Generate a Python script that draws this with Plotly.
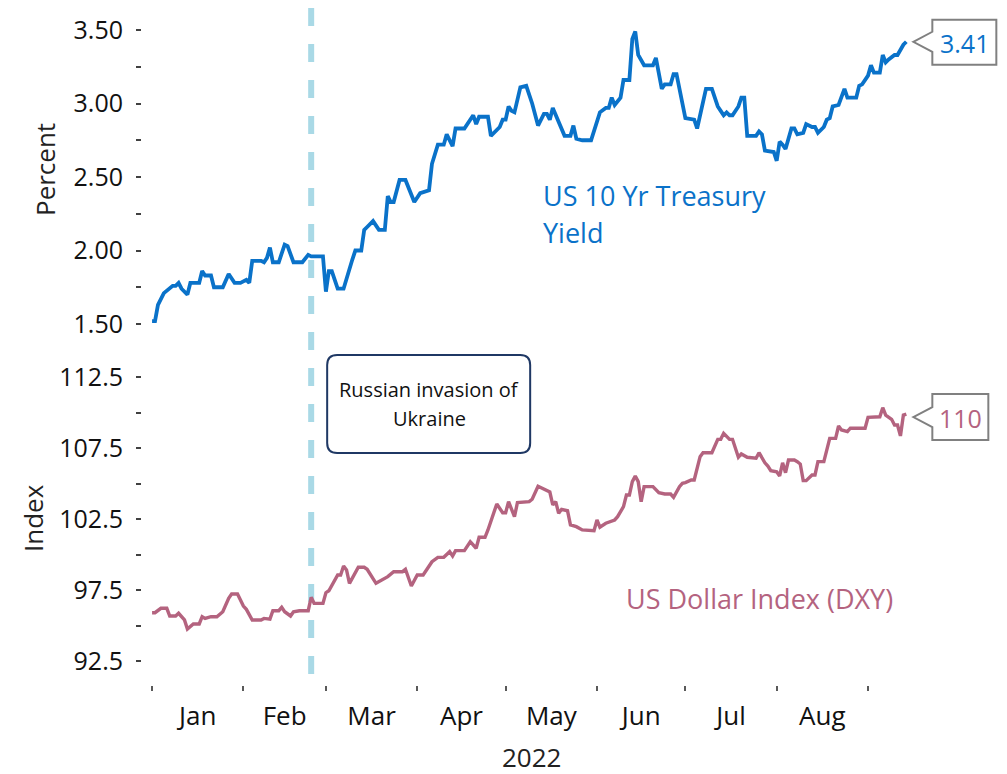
import pandas as pd
import plotly.graph_objects as go

# ---------------- data ----------------
yield_dates = [
    "2022-01-01", "2022-01-02", "2022-01-03", "2022-01-05", "2022-01-08", "2022-01-09", "2022-01-10",
    "2022-01-11", "2022-01-13", "2022-01-14", "2022-01-17", "2022-01-18", "2022-01-19", "2022-01-21",
    "2022-01-22", "2022-01-25", "2022-01-27", "2022-01-29", "2022-01-31", "2022-02-02", "2022-02-03",
    "2022-02-04", "2022-02-07", "2022-02-08", "2022-02-09", "2022-02-10", "2022-02-11", "2022-02-13",
    "2022-02-15", "2022-02-16", "2022-02-18", "2022-02-21", "2022-02-23", "2022-02-24", "2022-02-28",
    "2022-03-01", "2022-03-02", "2022-03-03", "2022-03-05", "2022-03-07", "2022-03-10", "2022-03-11",
    "2022-03-13", "2022-03-14", "2022-03-15", "2022-03-17", "2022-03-19", "2022-03-21", "2022-03-22",
    "2022-03-23", "2022-03-24", "2022-03-26", "2022-03-28", "2022-03-29", "2022-03-31", "2022-04-02",
    "2022-04-04", "2022-04-05", "2022-04-06", "2022-04-08", "2022-04-10", "2022-04-11", "2022-04-13",
    "2022-04-14", "2022-04-17", "2022-04-20", "2022-04-21", "2022-04-22", "2022-04-25", "2022-04-26",
    "2022-04-29", "2022-04-30", "2022-05-01", "2022-05-02", "2022-05-03", "2022-05-04", "2022-05-06",
    "2022-05-08", "2022-05-10", "2022-05-12", "2022-05-14", "2022-05-15", "2022-05-16", "2022-05-17",
    "2022-05-21", "2022-05-23", "2022-05-24", "2022-05-25", "2022-05-27", "2022-05-30", "2022-06-02",
    "2022-06-04", "2022-06-05", "2022-06-06", "2022-06-07", "2022-06-09", "2022-06-10", "2022-06-12",
    "2022-06-13", "2022-06-14", "2022-06-15", "2022-06-17", "2022-06-20", "2022-06-21", "2022-06-23",
    "2022-06-24", "2022-06-26", "2022-06-27", "2022-06-28", "2022-07-01", "2022-07-04", "2022-07-05",
    "2022-07-06", "2022-07-08", "2022-07-10", "2022-07-12", "2022-07-13", "2022-07-14", "2022-07-15",
    "2022-07-16", "2022-07-17", "2022-07-19", "2022-07-20", "2022-07-21", "2022-07-22", "2022-07-25",
    "2022-07-26", "2022-07-27", "2022-07-28", "2022-07-31", "2022-08-01", "2022-08-02", "2022-08-03",
    "2022-08-04", "2022-08-06", "2022-08-07", "2022-08-08", "2022-08-10", "2022-08-11", "2022-08-13",
    "2022-08-14", "2022-08-15", "2022-08-17", "2022-08-18", "2022-08-19", "2022-08-20", "2022-08-22",
    "2022-08-23", "2022-08-24", "2022-08-25", "2022-08-28", "2022-08-29", "2022-08-30", "2022-09-01",
    "2022-09-02", "2022-09-03", "2022-09-05", "2022-09-06", "2022-09-07", "2022-09-08", "2022-09-10",
    "2022-09-11", "2022-09-13", "2022-09-14",
]
yield_values = [
    1.52, 1.52, 1.63, 1.71, 1.76, 1.76, 1.78,
    1.74, 1.70, 1.78, 1.78, 1.86, 1.83, 1.83,
    1.75, 1.75, 1.84, 1.78, 1.78, 1.80, 1.78,
    1.93, 1.93, 1.92, 1.95, 2.02, 1.92, 1.92,
    2.04, 2.03, 1.92, 1.92, 1.97, 1.96, 1.96,
    1.72, 1.86, 1.86, 1.74, 1.74, 1.94, 2.00,
    2.00, 2.14, 2.16, 2.20, 2.14, 2.14, 2.37,
    2.33, 2.33, 2.48, 2.48, 2.43, 2.33, 2.39,
    2.40, 2.41, 2.59, 2.72, 2.72, 2.79, 2.71,
    2.83, 2.83, 2.92, 2.86, 2.91, 2.91, 2.78,
    2.84, 2.89, 2.89, 2.98, 2.95, 2.94, 3.11,
    3.12, 3.00, 2.85, 2.93, 2.93, 2.89, 2.97,
    2.78, 2.78, 2.85, 2.76, 2.75, 2.75, 2.94,
    2.97, 2.97, 3.04, 2.99, 3.04, 3.16, 3.16,
    3.44, 3.49, 3.33, 3.26, 3.26, 3.31, 3.10,
    3.13, 3.13, 3.20, 3.20, 2.90, 2.89, 2.83,
    2.92, 3.10, 3.10, 2.98, 2.95, 2.92, 2.94,
    2.92, 2.92, 2.98, 3.04, 3.04, 2.78, 2.78,
    2.81, 2.79, 2.68, 2.67, 2.61, 2.74, 2.72,
    2.69, 2.83, 2.83, 2.79, 2.80, 2.86, 2.84,
    2.84, 2.80, 2.84, 2.89, 2.90, 2.98, 2.99,
    3.05, 3.10, 3.04, 3.04, 3.12, 3.13, 3.19,
    3.26, 3.21, 3.21, 3.33, 3.28, 3.30, 3.33,
    3.33, 3.40, 3.42,
]

dxy_dates = [
    "2022-01-01", "2022-01-02", "2022-01-04", "2022-01-05", "2022-01-06", "2022-01-07", "2022-01-09",
    "2022-01-10", "2022-01-12", "2022-01-13", "2022-01-15", "2022-01-17", "2022-01-18", "2022-01-19",
    "2022-01-21", "2022-01-23", "2022-01-25", "2022-01-27", "2022-01-28", "2022-01-30", "2022-02-01",
    "2022-02-02", "2022-02-04", "2022-02-07", "2022-02-08", "2022-02-10", "2022-02-11", "2022-02-13",
    "2022-02-14", "2022-02-15", "2022-02-17", "2022-02-18", "2022-02-20", "2022-02-23", "2022-02-24",
    "2022-02-25", "2022-02-28", "2022-03-01", "2022-03-02", "2022-03-05", "2022-03-06", "2022-03-07",
    "2022-03-08", "2022-03-09", "2022-03-12", "2022-03-14", "2022-03-15", "2022-03-18", "2022-03-20",
    "2022-03-22", "2022-03-24", "2022-03-27", "2022-03-28", "2022-03-30", "2022-04-01", "2022-04-03",
    "2022-04-06", "2022-04-08", "2022-04-10", "2022-04-12", "2022-04-13", "2022-04-14", "2022-04-17",
    "2022-04-19", "2022-04-21", "2022-04-22", "2022-04-24", "2022-04-25", "2022-04-28", "2022-04-30",
    "2022-05-01", "2022-05-02", "2022-05-04", "2022-05-05", "2022-05-09", "2022-05-10", "2022-05-12",
    "2022-05-14", "2022-05-16", "2022-05-17", "2022-05-18", "2022-05-19", "2022-05-20", "2022-05-22",
    "2022-05-23", "2022-05-25", "2022-05-27", "2022-05-31", "2022-06-01", "2022-06-02", "2022-06-04",
    "2022-06-07", "2022-06-08", "2022-06-10", "2022-06-11", "2022-06-12", "2022-06-13", "2022-06-14",
    "2022-06-15", "2022-06-16", "2022-06-17", "2022-06-20", "2022-06-22", "2022-06-24", "2022-06-26",
    "2022-06-27", "2022-06-29", "2022-06-30", "2022-07-01", "2022-07-03", "2022-07-04", "2022-07-06",
    "2022-07-07", "2022-07-10", "2022-07-11", "2022-07-12", "2022-07-13", "2022-07-14", "2022-07-16",
    "2022-07-17", "2022-07-19", "2022-07-20", "2022-07-22", "2022-07-25", "2022-07-26", "2022-07-28",
    "2022-07-29", "2022-07-30", "2022-08-01", "2022-08-02", "2022-08-03", "2022-08-04", "2022-08-05",
    "2022-08-07", "2022-08-08", "2022-08-09", "2022-08-10", "2022-08-11", "2022-08-13", "2022-08-14",
    "2022-08-15", "2022-08-17", "2022-08-19", "2022-08-21", "2022-08-22", "2022-08-23", "2022-08-25",
    "2022-08-26", "2022-08-29", "2022-08-31", "2022-09-01", "2022-09-05", "2022-09-06", "2022-09-07",
    "2022-09-09", "2022-09-10", "2022-09-11", "2022-09-12", "2022-09-13", "2022-09-14",
]
dxy_values = [
    95.90, 95.90, 96.21, 96.20, 96.21, 95.67, 95.67,
    95.86, 95.39, 94.75, 95.11, 95.11, 95.62, 95.50,
    95.62, 95.62, 95.97, 96.92, 97.22, 97.22, 96.37,
    96.14, 95.39, 95.39, 95.50, 95.45, 96.04, 96.04,
    96.28, 95.97, 95.67, 95.97, 96.04, 96.04, 96.99,
    96.56, 96.56, 97.31, 97.45, 98.56, 98.56, 99.19,
    98.91, 97.97, 99.10, 99.10, 98.96, 97.97, 98.20,
    98.44, 98.79, 98.79, 98.96, 97.78, 98.56, 98.56,
    99.49, 99.80, 99.80, 100.20, 99.89, 100.27, 100.27,
    100.90, 100.44, 101.21, 101.21, 101.73, 103.56, 102.94,
    102.94, 103.72, 102.66, 103.65, 103.72, 103.89, 104.80,
    104.59, 104.40, 103.49, 103.72, 102.90, 103.18, 103.08,
    102.08, 101.96, 101.73, 101.68, 102.43, 101.92, 102.20,
    102.43, 102.66, 103.37, 104.19, 104.19, 105.13, 105.53,
    105.13, 103.72, 104.78, 104.78, 104.35, 104.26, 104.26,
    104.03, 104.78, 105.01, 105.06, 105.25, 105.25, 106.89,
    107.17, 107.17, 107.59, 108.11, 108.11, 108.53, 108.11,
    108.11, 106.85, 107.08, 106.85, 106.78, 107.17, 106.46,
    106.23, 105.90, 105.83, 105.53, 106.46, 105.76, 106.65,
    106.65, 106.54, 106.37, 105.20, 105.20, 105.60, 105.60,
    106.54, 106.54, 108.18, 108.18, 109.05, 108.77, 108.65,
    108.89, 108.89, 108.89, 109.66, 109.70, 110.34, 109.82,
    109.52, 109.12, 109.12, 108.35, 109.82, 109.89,
]

invasion_date = "2022-02-24"
invasion_text = ["Russian invasion of", "Ukraine"]
yield_name = ["US 10 Yr Treasury", "Yield"]
dxy_name = "US Dollar Index (DXY)"
yield_last_label = "3.41"
dxy_last_label = "110"

pct_tickvals = [1.50, 1.75, 2.00, 2.25, 2.50, 2.75, 3.00, 3.25, 3.50]
pct_ticktext = ["1.50", "", "2.00", "", "2.50", "", "3.00", "", "3.50"]
idx_tickvals = [92.5, 95.0, 97.5, 100.0, 102.5, 105.0, 107.5, 110.0, 112.5]
idx_ticktext = ["92.5", "", "97.5", "", "102.5", "", "107.5", "", "112.5"]

# ---------------- layout geometry ----------------
FONT = "Open Sans"
BLUE = "#0A72C9"
MAUVE = "#B4637F"
OFF = 8                      # page body margin of the browser
W, H = 1007 - OFF, 774 - OFF
ML, MR = 142 - OFF, 96
PW = W - ML - MR

X_RANGE = ["2021-12-28 14:00", "2022-09-15 14:00"]
Y1_RANGE = [1.48, 3.52]
Y2_RANGE = [90.81, 113.0]


def px_x(p):  # screen pixel -> paper x
    return (p - OFF - ML) / PW


def px_y(p):  # screen pixel -> paper y
    return 1 - (p - OFF) / H


Y1_DOMAIN = [px_y(326.94), px_y(27.06)]
Y2_DOMAIN = [px_y(685), px_y(369.9)]


def date_to_paper(d):
    t0, t1 = pd.Timestamp(X_RANGE[0]), pd.Timestamp(X_RANGE[1])
    return (pd.Timestamp(d) - t0) / (t1 - t0)


def val_to_paper(v, dom, rng):
    return dom[0] + (v - rng[0]) / (rng[1] - rng[0]) * (dom[1] - dom[0])


fig = go.Figure()
fig.add_trace(go.Scatter(x=yield_dates, y=yield_values, mode="lines",
                         line=dict(color=BLUE, width=3.8), xaxis="x", yaxis="y",
                         hoverinfo="skip"))
fig.add_trace(go.Scatter(x=dxy_dates, y=dxy_values, mode="lines",
                         line=dict(color=MAUVE, width=3.4), xaxis="x", yaxis="y2",
                         hoverinfo="skip"))

tickfont = dict(family=FONT, size=25, color="#111111")
common_y = dict(showgrid=False, zeroline=False, showline=False, ticks="outside", ticklen=5,
                tickwidth=1.5, tickcolor="#404040", tickfont=tickfont, tickmode="array",
                ticklabelstandoff=8, automargin=False, anchor="x")

fig.update_layout(
    width=W, height=H,
    margin=dict(l=ML, r=MR, t=0, b=0),
    paper_bgcolor="white", plot_bgcolor="white",
    showlegend=False,
    font=dict(family=FONT, color="#111111"),
    xaxis=dict(type="date", range=X_RANGE, anchor="y2",
               showgrid=False, zeroline=False, showline=False, ticks="outside", ticklen=5,
               tickwidth=1.5, tickcolor="#595959", dtick="M1", tick0="2022-01-01",
               tickformat="%b", ticklabelmode="period", ticklabelstandoff=3,
               tickfont=dict(family=FONT, size=26, color="#111111"),
               automargin=False),
    yaxis=dict(domain=Y1_DOMAIN, range=Y1_RANGE,
               tickvals=pct_tickvals, ticktext=pct_ticktext, **common_y),
    yaxis2=dict(domain=Y2_DOMAIN, range=Y2_RANGE,
                tickvals=idx_tickvals, ticktext=idx_ticktext, **common_y),
)

shapes = []
# vertical dashed event line
shapes.append(dict(type="line", xref="x", yref="paper", x0=invasion_date, x1=invasion_date,
                   y0=px_y(8), y1=px_y(684), layer="below",
                   line=dict(color="#A9D9E6", width=6, dash="18px,18px")))
# rounded box for the event label
shapes.append(dict(type="path", xref="x", yref="paper", xsizemode="pixel", ysizemode="pixel",
                   xanchor=invasion_date, yanchor=px_y(377),
                   path=("M 26,22 L 209,22 Q 219,22 219,12 L 219,-66 Q 219,-76 209,-76 "
                         "L 26,-76 Q 16,-76 16,-66 L 16,12 Q 16,22 26,22 Z"),
                   line=dict(color="#1F3864", width=2), fillcolor="white"))
# callouts at the last points
shapes.append(dict(type="path", xref="paper", yref="paper", xsizemode="pixel", ysizemode="pixel",
                   xanchor=date_to_paper(yield_dates[-1]),
                   yanchor=val_to_paper(yield_values[-1], Y1_DOMAIN, Y1_RANGE),
                   path="M 7,0 L 26,10 L 26,22 L 90,22 L 90,-23 L 26,-23 L 26,-10 Z",
                   line=dict(color="#808080", width=2), fillcolor="white"))
shapes.append(dict(type="path", xref="paper", yref="paper", xsizemode="pixel", ysizemode="pixel",
                   xanchor=date_to_paper(dxy_dates[-1]),
                   yanchor=val_to_paper(dxy_values[-1], Y2_DOMAIN, Y2_RANGE),
                   path="M 7,-3 L 26,7 L 26,20 L 82,20 L 82,-26 L 26,-26 L 26,-13 Z",
                   line=dict(color="#808080", width=2), fillcolor="white"))
fig.update_layout(shapes=shapes)

ann = []
# callout texts
ann.append(dict(xref="x", yref="y", x=yield_dates[-1], y=yield_values[-1], xshift=58, yshift=-1,
                text=yield_last_label, showarrow=False, xanchor="center", yanchor="middle",
                font=dict(family=FONT, size=25, color=BLUE)))
ann.append(dict(xref="x", yref="y2", x=dxy_dates[-1], y=dxy_values[-1], xshift=54, yshift=-4,
                text=dxy_last_label, showarrow=False, xanchor="center", yanchor="middle",
                font=dict(family=FONT, size=25, color=MAUVE)))
# event text
ann.append(dict(xref="x", yref="paper", x=invasion_date, y=px_y(390), xshift=118,
                text=invasion_text[0], showarrow=False, xanchor="center", yanchor="middle",
                font=dict(family=FONT, size=20, color="#111111")))
ann.append(dict(xref="x", yref="paper", x=invasion_date, y=px_y(419), xshift=118,
                text=invasion_text[1], showarrow=False, xanchor="center", yanchor="middle",
                font=dict(family=FONT, size=20, color="#111111")))
# series labels
ann.append(dict(xref="paper", yref="paper", x=px_x(541), y=px_y(195), text=yield_name[0],
                showarrow=False, xanchor="left", yanchor="middle",
                font=dict(family=FONT, size=27, color=BLUE)))
ann.append(dict(xref="paper", yref="paper", x=px_x(541), y=px_y(233), text=yield_name[1],
                showarrow=False, xanchor="left", yanchor="middle",
                font=dict(family=FONT, size=27, color=BLUE)))
ann.append(dict(xref="paper", yref="paper", x=px_x(624), y=px_y(598), text=dxy_name,
                showarrow=False, xanchor="left", yanchor="middle",
                font=dict(family=FONT, size=27, color=MAUVE)))
# axis titles
ann.append(dict(xref="paper", yref="paper", x=px_x(45), y=px_y(170), text="Percent",
                showarrow=False, textangle=-90, xanchor="center", yanchor="middle",
                font=dict(family=FONT, size=26, color="#222222")))
ann.append(dict(xref="paper", yref="paper", x=px_x(33), y=px_y(518), text="Index",
                showarrow=False, textangle=-90, xanchor="center", yanchor="middle",
                font=dict(family=FONT, size=26, color="#222222")))
ann.append(dict(xref="paper", yref="paper", x=px_x(531), y=px_y(757), text="2022",
                showarrow=False, xanchor="center", yanchor="middle",
                font=dict(family=FONT, size=26, color="#222222")))
fig.update_layout(annotations=ann)

fig.write_html("out.html")
